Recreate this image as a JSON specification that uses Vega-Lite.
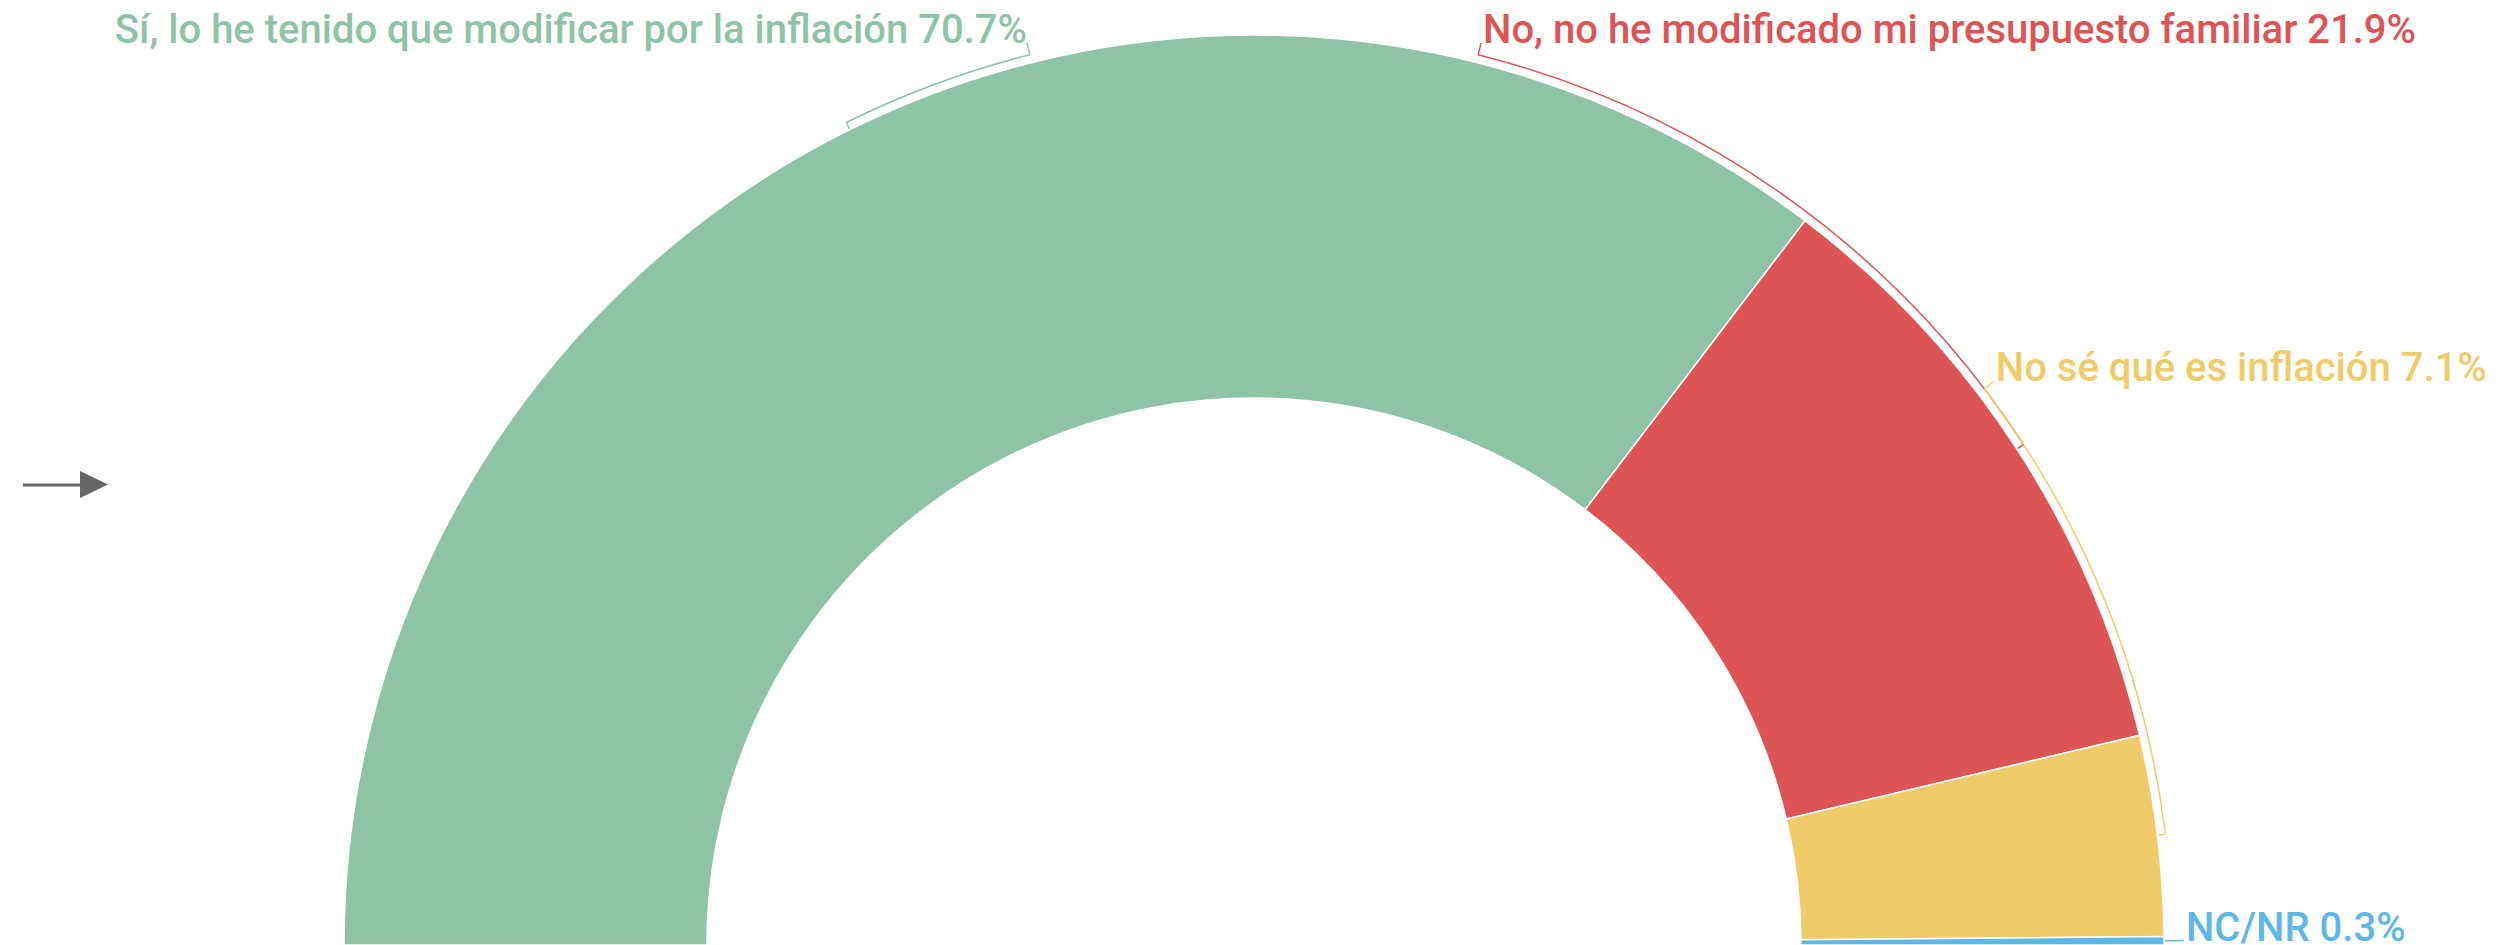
{
  "$schema": "https://vega.github.io/schema/vega-lite/v6.json",
  "width": 2514,
  "height": 945,
  "autosize": {"type": "none"},
  "padding": 0,
  "background": "white",
  "config": {"view": {"stroke": null}},
  "data": {
    "values": [
      {"category": "Sí, lo he tenido que modificar por la inflación", "value": 70.7},
      {"category": "No, no he modificado mi presupuesto familiar", "value": 21.9},
      {"category": "No sé qué es inflación", "value": 7.1},
      {"category": "NC/NR", "value": 0.3}
    ]
  },
  "transform": [
    {"window": [{"op": "row_number", "as": "idx"}]},
    {"stack": "value", "groupby": [], "sort": [{"field": "idx", "order": "ascending"}], "as": ["v0", "v1"]},
    {"calculate": "(datum.v0 + datum.v1) / 2", "as": "mid"},
    {"calculate": "datum.idx == 1 ? 42.15 : datum.idx == 2 ? 57.85 : datum.idx == 3 ? 79.28 : datum.mid", "as": "labelAt"},
    {"calculate": "datum.category + ' ' + format(datum.value, '.1f') + '%'", "as": "label"}
  ],
  "encoding": {
    "x": {"datum": 1254, "type": "quantitative", "scale": {"domain": [0, 2514], "nice": false, "zero": false}, "axis": null},
    "y": {"datum": 945, "type": "quantitative", "scale": {"domain": [0, 945], "nice": false, "zero": false, "reverse": true}, "axis": null},
    "color": {
      "field": "category",
      "type": "nominal",
      "scale": {
        "domain": ["Sí, lo he tenido que modificar por la inflación", "No, no he modificado mi presupuesto familiar", "No sé qué es inflación", "NC/NR"],
        "range": ["#8FC3A8", "#DC5456", "#EFCB6A", "#5DB8E6"]
      },
      "legend": null
    }
  },
  "layer": [
    {
      "mark": {"type": "arc", "radius": 910, "radius2": 547, "stroke": "white", "strokeWidth": 1.5},
      "encoding": {
        "theta": {"field": "v0", "type": "quantitative", "stack": null, "scale": {"domain": [0, 100], "range": [-1.5707963, 1.5707963]}},
        "theta2": {"field": "v1"}
      }
    },
    {
      "mark": {"type": "arc", "radius": 918, "radius2": 918, "filled": false, "strokeWidth": 1.5},
      "encoding": {
        "theta": {"field": "mid", "type": "quantitative", "stack": null},
        "theta2": {"field": "labelAt"}
      }
    },
    {
      "mark": {"type": "arc", "radius": 918, "radius2": 911, "filled": false, "strokeWidth": 1.5},
      "encoding": {
        "theta": {"field": "mid", "type": "quantitative", "stack": null},
        "theta2": {"field": "mid"}
      }
    },
    {
      "mark": {"type": "arc", "radius": 930, "radius2": 918, "filled": false, "strokeWidth": 1.5},
      "encoding": {
        "theta": {"field": "labelAt", "type": "quantitative", "stack": null},
        "theta2": {"field": "labelAt"}
      }
    },
    {
      "transform": [{"filter": "datum.idx == 1"}],
      "mark": {"type": "text", "radius": 930, "align": "right", "baseline": "alphabetic", "font": "Roboto", "fontSize": 40, "fontWeight": 500, "dx": 0},
      "encoding": {
        "theta": {"field": "labelAt", "type": "quantitative", "stack": null},
        "text": {"field": "label"}
      }
    },
    {
      "transform": [{"filter": "datum.idx != 1"}],
      "mark": {"type": "text", "radius": 930, "align": "left", "baseline": "alphabetic", "font": "Roboto", "fontSize": 40, "fontWeight": 500, "dx": 2},
      "encoding": {
        "theta": {"field": "labelAt", "type": "quantitative", "stack": null},
        "text": {"field": "label"}
      }
    },
    {
      "data": {"values": [{}]},
      "mark": {"type": "rule", "color": "#666666", "strokeWidth": 3},
      "encoding": {
        "x": {"datum": 23, "type": "quantitative"},
        "x2": {"datum": 82},
        "y": {"datum": 485, "type": "quantitative"},
        "color": {"value": "#666666"}
      }
    },
    {
      "data": {"values": [{}]},
      "mark": {"type": "point", "shape": "M-1,-0.96L1,0L-1,0.96Z", "filled": true, "size": 784, "opacity": 1},
      "encoding": {
        "x": {"datum": 94, "type": "quantitative"},
        "y": {"datum": 484.5, "type": "quantitative"},
        "color": {"value": "#666666"}
      }
    }
  ]
}
